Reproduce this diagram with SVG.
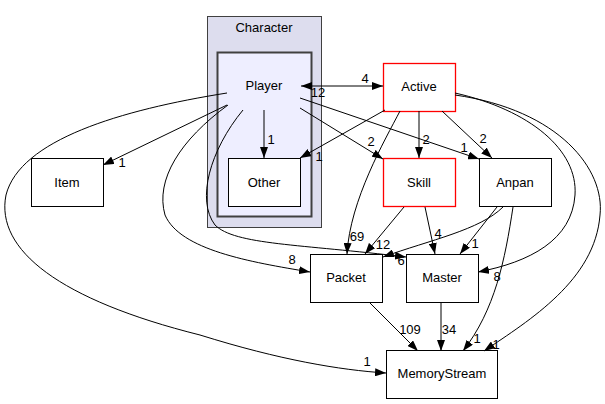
<svg xmlns="http://www.w3.org/2000/svg" width="605" height="404" viewBox="0 0 605 404">
<style>
text{font-family:"Liberation Sans",Arial,sans-serif;font-size:13px;fill:#000}
.n{fill:#fff;stroke:#000;stroke-width:1}
.r{fill:#fff;stroke:#ff0000;stroke-width:1.3}
.c{text-anchor:middle}
.e path{fill:none;stroke:#000;stroke-width:1;marker-end:url(#ah)}
</style>
<defs>
<marker id="ah" markerUnits="userSpaceOnUse" markerWidth="11" markerHeight="8" refX="11" refY="4" orient="auto-start-reverse"><path d="M0,0 L11,4 L0,8 z" fill="#000"/></marker>
</defs>
<rect width="605" height="404" fill="#fff"/>
<g id="cluster_Character">
<rect x="207.5" y="16.5" width="114" height="211" fill="#ddddee" stroke="#404040"/>
<text class="c" x="264" y="32">Character</text>
</g>
<g id="cluster_Player">
<rect x="217.5" y="52.5" width="94" height="164" fill="#eeeeff" stroke="#404040" stroke-width="2"/>
<text class="c" x="264" y="90">Player</text>
</g>
<g id="node_Other"><rect class="n" x="228.5" y="158.5" width="72" height="48"/><text class="c" x="264" y="187">Other</text></g>
<g id="node_Item"><rect class="n" x="31.5" y="158.5" width="72" height="48"/><text class="c" x="67" y="187">Item</text></g>
<g id="node_Active"><rect class="r" x="383.5" y="63.5" width="72" height="48"/><text class="c" x="419" y="91">Active</text></g>
<g id="node_Skill"><rect class="r" x="383.5" y="158.5" width="72" height="48"/><text class="c" x="419" y="187">Skill</text></g>
<g id="node_Anpan"><rect class="n" x="479.5" y="158.5" width="72" height="48"/><text class="c" x="515" y="187">Anpan</text></g>
<g id="node_Packet"><rect class="n" x="310.5" y="254.5" width="72" height="48"/><text class="c" x="346" y="282">Packet</text></g>
<g id="node_Master"><rect class="n" x="406.5" y="254.5" width="72" height="48"/><text class="c" x="442" y="282">Master</text></g>
<g id="node_MemoryStream"><rect class="n" x="386.5" y="350.5" width="111" height="48"/><text class="c" x="442" y="378">MemoryStream</text></g>
<g id="connectors" class="e">
<path d="M264,110 L264,158"/>
<path d="M301,86 L383,86" marker-start="url(#ah)"/>
<path d="M385,110 L300,158"/>
<path d="M300,108 L383,159"/>
<path d="M300,98 L479,159"/>
<path d="M419,111 L419,158"/>
<path d="M442,111 L492,158"/>
<path d="M400,111 C385,140 350,200 347,254"/>
<path d="M404,207 L365,254"/>
<path d="M425,207 L435,254"/>
<path d="M497,207 L460,254"/>
<path d="M503,207 C480,230 430,240 383,257"/>
<path d="M243,110 C210,150 196,200 215,225 C235,245 300,244 406,257"/>
<path d="M228,105 C180,140 155,180 165,215 C180,250 250,262 310,272"/>
<path d="M227,105 L103,165"/>
<path d="M227,93 C120,110 20,140 6,195 C-5,250 60,300 200,335 C280,360 340,370 386,373"/>
<path d="M455,93 C530,110 578,150 575,195 C572,240 530,262 478,272"/>
<path d="M455,95 C560,110 605,170 600,215 C595,280 530,320 484,351"/>
<path d="M513,207 C505,260 495,310 463,351"/>
<path d="M369,302 L418,351"/>
<path d="M441,302 L441,351"/>
</g>
<g id="labels" class="c">
<text x="271" y="144">1</text>
<text x="319" y="161">1</text>
<text x="365" y="83">4</text>
<text x="318" y="97">12</text>
<text x="371" y="146">2</text>
<text x="426" y="144">2</text>
<text x="464" y="152">1</text>
<text x="483" y="143">2</text>
<text x="122" y="167">1</text>
<text x="357" y="241">69</text>
<text x="383" y="249">12</text>
<text x="401" y="265">6</text>
<text x="438" y="238">4</text>
<text x="475" y="248">1</text>
<text x="497" y="281">8</text>
<text x="292" y="264">8</text>
<text x="367" y="366">1</text>
<text x="410" y="334">109</text>
<text x="449" y="334">34</text>
<text x="477" y="343">1</text>
<text x="496" y="349">1</text>
</g>
</svg>
